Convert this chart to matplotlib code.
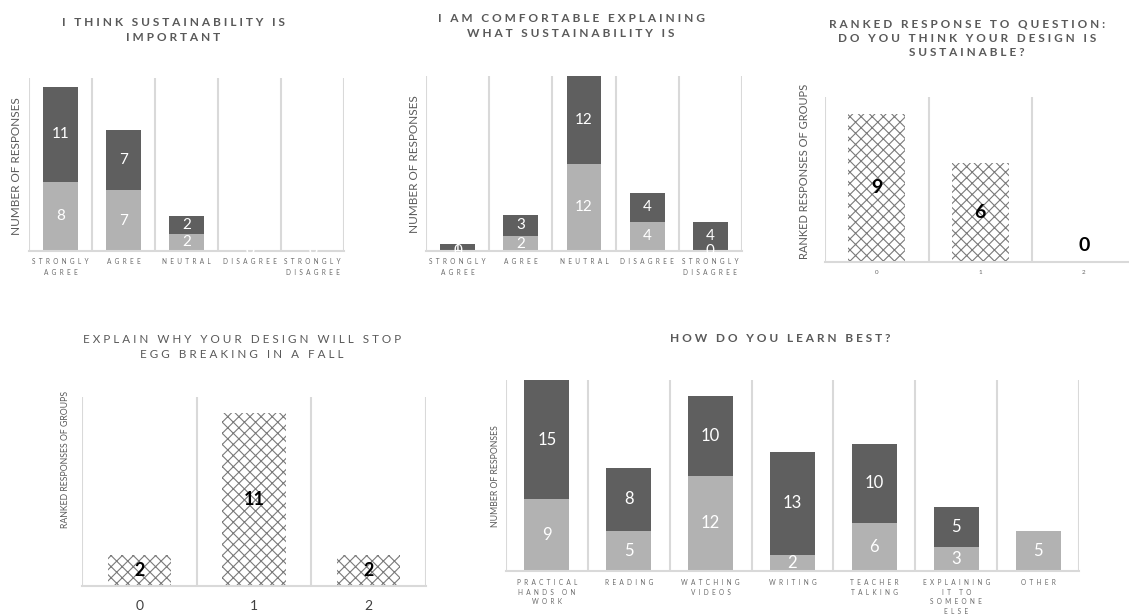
import numpy as np
import matplotlib
matplotlib.use("Agg")
import matplotlib.pyplot as plt

plt.rcParams['font.family'] = ['Lato', 'DejaVu Sans']
plt.rcParams['hatch.linewidth'] = 0.8

# ---- data ----
agree_cats = ["STRONGLY\nAGREE", "AGREE", "NEUTRAL", "DISAGREE", "STRONGLY\nDISAGREE"]
important_light = [8, 7, 2, 0, 0]
important_dark = [11, 7, 2, 0, 0]
explain_light = [0, 2, 12, 4, 0]
explain_dark = [1, 3, 12, 4, 4]

rank_cats = ["0", "1", "2"]
sustainable_rank = [9, 6, 0]
egg_rank = [2, 11, 2]

learn_cats = ["PRACTICAL\nHANDS ON\nWORK", "READING", "WATCHING\nVIDEOS", "WRITING",
              "TEACHER\nTALKING", "EXPLAINING\nIT TO\nSOMEONE\nELSE", "OTHER"]
learn_light = [9, 5, 12, 2, 6, 3, 5]
learn_dark = [15, 8, 10, 13, 10, 5, 0]

W, H = 1129, 614
DARK = "#5f5f5f"
LIGHT = "#b2b2b2"
GRID = "#d9d9d9"
TXT = "#595959"


def spaced(s, gap=" "):
    return "\n".join(gap.join(line) for line in s.split("\n"))


def px_axes(fig, l, t, r, b):
    return fig.add_axes([l / W, 1 - b / H, (r - l) / W, (b - t) / H])


def style(ax, n, ymax, labels, fs, color, gap, pad=4, lsp=1.4):
    ax.set_xlim(-0.5, n - 0.5)
    ax.set_ylim(0, ymax)
    ax.set_xticks(np.arange(-0.5, n, 1.0), minor=True)
    ax.grid(True, which="minor", axis="x", color=GRID, lw=1.5)
    ax.set_axisbelow(True)
    ax.tick_params(which="both", length=0)
    ax.set_yticks([])
    ax.set_xticks(range(n))
    ax.set_xticklabels([spaced(c, gap) for c in labels], fontsize=fs, color=color,
                       linespacing=lsp)
    ax.tick_params(axis="x", pad=pad)
    for s in ["top", "left", "right"]:
        ax.spines[s].set_visible(False)
    ax.spines["bottom"].set_color(GRID)
    ax.spines["bottom"].set_linewidth(1.5)
    ax.set_facecolor("none")


def stacked(ax, light, dark, fs, zero_labels=True):
    x = np.arange(len(light))
    ax.bar(x, light, 0.55, color=LIGHT, zorder=2)
    ax.bar(x, dark, 0.55, bottom=light, color=DARK, zorder=2)
    for i, (a, b) in enumerate(zip(light, dark)):
        ax.text(i, a / 2, str(a), ha="center", va="center", color="white",
                fontsize=fs, zorder=4)
        if b or zero_labels:
            ax.text(i, a + b / 2, str(b), ha="center", va="center", color="white",
                    fontsize=fs, zorder=4)


def hatched(ax, vals, fs, ymax):
    x = np.arange(len(vals))
    ax.bar(x, vals, 0.55, color="white", edgecolor="#7a7a7a", linewidth=0,
           hatch="xxx", zorder=2)
    for i, v in enumerate(vals):
        y = v / 2 if v else ymax * 0.1
        ax.text(i, y, str(v), ha="center", va="center", color="black",
                fontsize=fs, fontweight="bold", zorder=4)


fig = plt.figure(figsize=(W / 100, H / 100), dpi=100)

# chart 1
ax1 = px_axes(fig, 29, 78, 344, 251)
stacked(ax1, important_light, important_dark, 11)
style(ax1, 5, 20, agree_cats, 4.7, "#6a6a6a", "  ", pad=5, lsp=1.6)
fig.text(173 / W, 1 - 30 / H, spaced("I THINK SUSTAINABILITY IS\nIMPORTANT"),
         ha="center", va="center", fontsize=8.6, fontweight="bold", color=TXT,
         linespacing=1.35)
fig.text(17 / W, 1 - 166 / H, "NUMBER OF RESPONSES", rotation=90, ha="center",
         va="center", fontsize=8.5, color=TXT)

# chart 2
ax2 = px_axes(fig, 426, 76, 742, 251)
stacked(ax2, explain_light, explain_dark, 11)
style(ax2, 5, 24, agree_cats, 4.7, "#6a6a6a", "  ", pad=5, lsp=1.6)
fig.text(571 / W, 1 - 26 / H,
         spaced("I AM COMFORTABLE EXPLAINING\nWHAT SUSTAINABILITY IS"),
         ha="center", va="center", fontsize=8.6, fontweight="bold", color=TXT,
         linespacing=1.35)
fig.text(415 / W, 1 - 164 / H, "NUMBER OF RESPONSES", rotation=90, ha="center",
         va="center", fontsize=8.5, color=TXT)

# chart 3
ax3 = px_axes(fig, 825, 97, 1135.5, 262)
hatched(ax3, sustainable_rank, 14, 10)
style(ax3, 3, 10, rank_cats, 4.5, "#666666", " ", pad=6)
fig.text(967 / W, 1 - 38 / H,
         spaced("RANKED RESPONSE TO QUESTION:\nDO YOU THINK YOUR DESIGN IS\nSUSTAINABLE?"),
         ha="center", va="center", fontsize=8.5, fontweight="bold", color=TXT,
         linespacing=1.35)
fig.text(805 / W, 1 - 171 / H, "RANKED RESPONSES OF GROUPS", rotation=90,
         ha="center", va="center", fontsize=8, color=TXT)

# chart 4
ax4 = px_axes(fig, 82, 397, 426, 586)
hatched(ax4, egg_rank, 13, 12)
style(ax4, 3, 12, rank_cats, 10, "#404040", " ", pad=10)
fig.text(242 / W, 1 - 347 / H,
         spaced("EXPLAIN WHY YOUR DESIGN WILL STOP\nEGG BREAKING IN A FALL"),
         ha="center", va="center", fontsize=8.4, color=TXT, linespacing=1.4)
fig.text(65 / W, 1 - 459 / H, "RANKED RESPONSES OF GROUPS", rotation=90,
         ha="center", va="center", fontsize=6.3, color=TXT)

# chart 5
ax5 = px_axes(fig, 506, 380, 1079, 571)
stacked(ax5, learn_light, learn_dark, 12, zero_labels=False)
style(ax5, 7, 24, learn_cats, 4.7, "#6a6a6a", "  ", pad=6, lsp=1.42)
fig.text(780 / W, 1 - 339 / H, spaced("HOW DO YOU LEARN BEST?"), ha="center",
         va="center", fontsize=8.6, fontweight="bold", color=TXT)
fig.text(495 / W, 1 - 476 / H, "NUMBER OF RESPONSES", rotation=90, ha="center",
         va="center", fontsize=6.3, color=TXT)

fig.savefig("out.png", dpi=100, facecolor="white")
